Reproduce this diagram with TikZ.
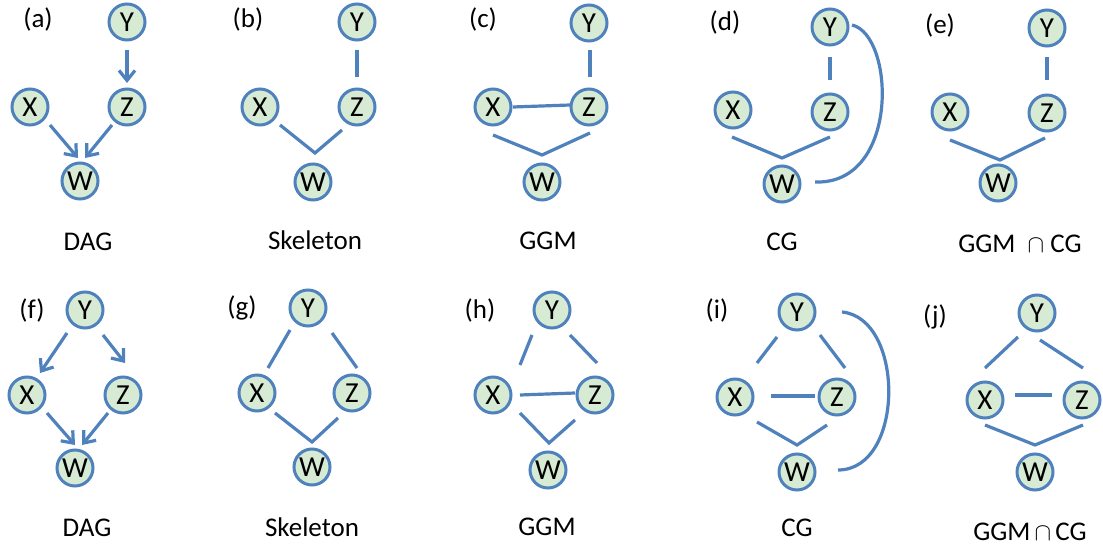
\documentclass[tikz,border=0pt]{standalone}
\usepackage{fontspec}
\setmainfont{Carlito}
\usetikzlibrary{arrows.meta}
\definecolor{nodeblue}{RGB}{79,129,189}
\definecolor{nodegreen}{RGB}{215,235,212}
\begin{document}
\begin{tikzpicture}[x=1pt,y=-1pt,
  vtx/.style={circle,draw=nodeblue,fill=nodegreen,line width=3pt,
    minimum size=36pt,inner sep=0pt,font=\fontsize{29}{29}\selectfont},
  edge/.style={draw=nodeblue,line width=3.2pt},
  dirarrow/.style={edge,-{Straight Barb[length=10pt,width=16pt]}},
  lbl/.style={inner sep=0pt,font=\fontsize{27}{27}\selectfont},
  capt/.style={inner sep=0pt,anchor=base,font=\fontsize{27}{27}\selectfont}]
\useasboundingbox (0,0) rectangle (1103,548);

% ---------- (a) DAG ----------
\node[lbl] (La) at (38,20) {(a)};
\node[vtx] (Ya) at (127,22) {Y};
\node[vtx] (Za) at (127,107) {Z};
\node[vtx] (Xa) at (30,107) {X};
\node[vtx] (Wa) at (80,181) {W};
\draw[dirarrow] ([shift={(0,28)}]Ya.center) -- ([shift={(0,-24)}]Za.center);
\draw[dirarrow] ([shift={(20,18)}]Xa.center) -- ([shift={(-2,-23)}]Wa.center);
\draw[dirarrow] ([shift={(-15,18)}]Za.center) -- ([shift={(5,-23)}]Wa.center);
\node[capt] (Ca) at (88,251) {DAG};

% ---------- (b) Skeleton ----------
\node[lbl] (Lb) at (248,20) {(b)};
\node[vtx] (Yb) at (357,22) {Y};
\node[vtx] (Zb) at (357,107) {Z};
\node[vtx] (Xb) at (260,107) {X};
\node[vtx] (Wb) at (313,182) {W};
\coordinate (mb) at (315,153);
\draw[edge] ([shift={(0,28)}]Yb.center) -- ([shift={(0,-30)}]Zb.center);
\draw[edge] ([shift={(20,18)}]Xb.center) -- (mb) -- ([shift={(-15,23)}]Zb.center);
\node[capt] (Cb) at (315,250) {Skeleton};

% ---------- (c) GGM ----------
\node[lbl] (Lc) at (483,20) {(c)};
\node[vtx] (Yc) at (589,23) {Y};
\node[vtx] (Zc) at (589,107) {Z};
\node[vtx] (Xc) at (493,107) {X};
\node[vtx] (Wc) at (542,182) {W};
\coordinate (mc) at (542,155);
\draw[edge] ([shift={(1,27)}]Yc.center) -- ([shift={(1,-30)}]Zc.center);
\draw[edge] ([shift={(20,0)}]Xc.center) -- ([shift={(-19,-2)}]Zc.center);
\draw[edge] ([shift={(0,28)}]Xc.center) -- (mc) -- ([shift={(1,26)}]Zc.center);
\node[capt] (Cc) at (548,250) {GGM};

% ---------- (d) CG ----------
\node[lbl] (Ld) at (725,22) {(d)};
\node[vtx] (Yd) at (830,27) {Y};
\node[vtx] (Zd) at (830,112) {Z};
\node[vtx] (Xd) at (733,110) {X};
\node[vtx] (Wd) at (782,184) {W};
\coordinate (md) at (782,158);
\draw[edge] ([shift={(0,30)}]Yd.center) -- ([shift={(0,-32)}]Zd.center);
\draw[edge] ([shift={(-1,27)}]Xd.center) -- (md) -- ([shift={(0,25)}]Zd.center);
\draw[edge] ([shift={(22,-2)}]Yd.center) .. controls +(43,10) and +(85,3) .. ([shift={(33,-2)}]Wd.center);
\node[capt] (Cd) at (782,251) {CG};

% ---------- (e) GGM and CG ----------
\node[lbl] (Le) at (940,25) {(e)};
\node[vtx] (Ye) at (1047,28) {Y};
\node[vtx] (Ze) at (1047,113) {Z};
\node[vtx] (Xe) at (950,112) {X};
\node[vtx] (We) at (998,183) {W};
\coordinate (me) at (1000,160);
\draw[edge] ([shift={(0,29)}]Ye.center) -- ([shift={(0,-33)}]Ze.center);
\draw[edge] ([shift={(0,28)}]Xe.center) -- (me) -- ([shift={(-2,25)}]Ze.center);
\node[capt] (Ce) at (1020,252) {GGM~~$\cap$ CG};

% ---------- (f) DAG ----------
\node[lbl] (Lf) at (32,310) {(f)};
\node[vtx] (Yf) at (85,310) {Y};
\node[vtx] (Xf) at (27,395) {X};
\node[vtx] (Zf) at (123,395) {Z};
\node[vtx] (Wf) at (75,468) {W};
\draw[dirarrow] ([shift={(-18,23)}]Yf.center) -- ([shift={(13,-22)}]Xf.center);
\draw[dirarrow] ([shift={(18,25)}]Yf.center) -- ([shift={(2,-32)}]Zf.center);
\draw[dirarrow] ([shift={(20,18)}]Xf.center) -- ([shift={(0,-23)}]Wf.center);
\draw[dirarrow] ([shift={(-15,18)}]Zf.center) -- ([shift={(7,-23)}]Wf.center);
\node[capt] (Cf) at (87,536) {DAG};

% ---------- (g) Skeleton ----------
\node[lbl] (Lg) at (242,308) {(g)};
\node[vtx] (Yg) at (308,308) {Y};
\node[vtx] (Xg) at (257,393) {X};
\node[vtx] (Zg) at (352,393) {Z};
\node[vtx] (Wg) at (312,467) {W};
\coordinate (mg) at (312,442);
\draw[edge] ([shift={(-18,22)}]Yg.center) -- ([shift={(11,-25)}]Xg.center);
\draw[edge] ([shift={(24,25)}]Yg.center) -- ([shift={(5,-25)}]Zg.center);
\draw[edge] ([shift={(18,20)}]Xg.center) -- (mg) -- ([shift={(-14,25)}]Zg.center);
\node[capt] (Cg) at (312,536) {Skeleton};

% ---------- (h) GGM ----------
\node[lbl] (Lh) at (480,310) {(h)};
\node[vtx] (Yh) at (552,310) {Y};
\node[vtx] (Xh) at (493,395) {X};
\node[vtx] (Zh) at (595,395) {Z};
\node[vtx] (Wh) at (548,470) {W};
\coordinate (mh) at (549,443);
\draw[edge] ([shift={(-20,25)}]Yh.center) -- ([shift={(27,-30)}]Xh.center);
\draw[edge] ([shift={(18,25)}]Yh.center) -- ([shift={(2,-32)}]Zh.center);
\draw[edge] ([shift={(27,0)}]Xh.center) -- ([shift={(-20,-2)}]Zh.center);
\draw[edge] ([shift={(27,18)}]Xh.center) -- (mh) -- ([shift={(-20,25)}]Zh.center);
\node[capt] (Ch) at (547,535) {GGM};

% ---------- (i) CG ----------
\node[lbl] (Li) at (717,310) {(i)};
\node[vtx] (Yi) at (797,312) {Y};
\node[vtx] (Xi) at (735,397) {X};
\node[vtx] (Zi) at (837,397) {Z};
\node[vtx] (Wi) at (797,472) {W};
\coordinate (mi) at (797,445);
\draw[edge] ([shift={(-20,25)}]Yi.center) -- ([shift={(22,-34)}]Xi.center);
\draw[edge] ([shift={(23,23)}]Yi.center) -- ([shift={(8,-29)}]Zi.center);
\draw[edge] ([shift={(36,-1)}]Xi.center) -- ([shift={(-22,-1)}]Zi.center);
\draw[edge] ([shift={(22,25)}]Xi.center) -- (mi) -- ([shift={(-10,28)}]Zi.center);
\draw[edge] ([shift={(45,0)}]Yi.center) .. controls +(63,6) and +(67,0) .. ([shift={(41,-2)}]Wi.center);
\node[capt] (Ci) at (797,536) {CG};

% ---------- (j) GGM and CG ----------
\node[lbl] (Lj) at (935,317) {(j)};
\node[vtx] (Yj) at (1037,313) {Y};
\node[vtx] (Xj) at (985,400) {X};
\node[vtx] (Zj) at (1082,400) {Z};
\node[vtx] (Wj) at (1035,472) {W};
\coordinate (mj) at (1035,445);
\draw[edge] ([shift={(-19,24)}]Yj.center) -- ([shift={(0,-32)}]Xj.center);
\draw[edge] ([shift={(3,27)}]Yj.center) -- ([shift={(1,-32)}]Zj.center);
\draw[edge] ([shift={(30,-5)}]Xj.center) -- ([shift={(-30,-5)}]Zj.center);
\draw[edge] ([shift={(0,25)}]Xj.center) -- (mj) -- ([shift={(1,25)}]Zj.center);
\node[capt] (Cj) at (1030,540) {GGM$\,\cap\,$CG};
\end{tikzpicture}
\end{document}
